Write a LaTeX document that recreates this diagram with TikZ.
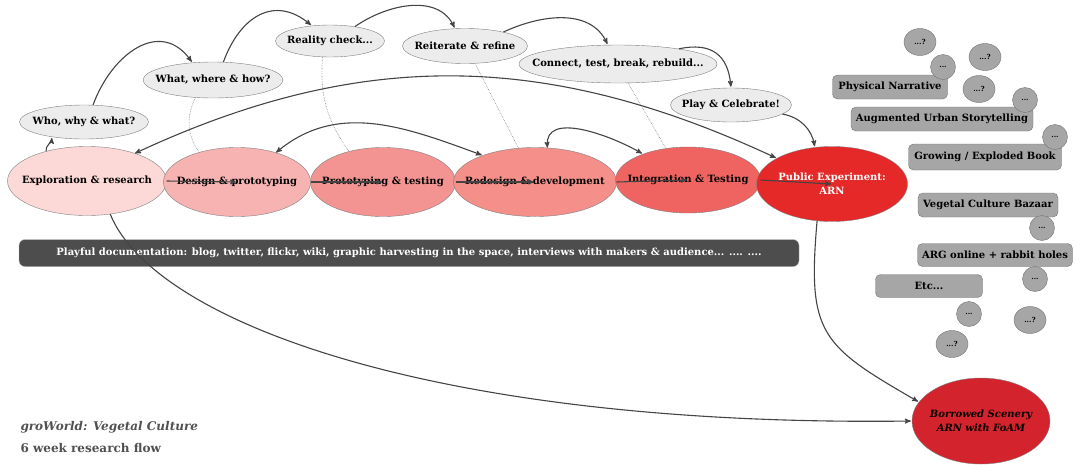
\documentclass[tikz,border=0pt]{standalone}
\usepackage{fontspec}
\setmainfont{DejaVu Serif}
\usepackage{tikz}
\usetikzlibrary{arrows,shapes.geometric}

\definecolor{rimgray}{HTML}{808080}
\definecolor{arrowgray}{HTML}{444444}
\definecolor{askfill}{HTML}{ECECEC}
\definecolor{boxfill}{HTML}{A6A6A6}
\definecolor{barfill}{HTML}{4D4D4D}
\definecolor{ph1}{HTML}{FCD8D7}
\definecolor{ph2}{HTML}{F7B2B2}
\definecolor{ph3}{HTML}{F39493}
\definecolor{ph4}{HTML}{F48F8A}
\definecolor{ph5}{HTML}{EF6461}
\definecolor{ph6}{HTML}{E52828}
\definecolor{ph7}{HTML}{D3242D}
\definecolor{titlegray}{HTML}{505050}

\begin{document}
\begin{tikzpicture}[x=1pt,y=-1pt,>=stealth',shorten >=1pt,
        every node/.style={font=\fontsize{10}{12}\selectfont\bfseries},
        phase/.style={ellipse,draw=rimgray,inner xsep=-40pt,inner ysep=0pt},
        ask/.style={ellipse,draw=rimgray,fill=askfill,inner xsep=-40pt,inner ysep=0pt},
        idea/.style={rectangle,rounded corners=5pt,draw=rimgray!90!black,fill=boxfill,inner sep=0pt},
        more/.style={ellipse,draw=rimgray!90!black,fill=boxfill,inner xsep=-10pt,inner ysep=0pt,
                     font=\fontsize{7}{8}\selectfont\bfseries},
        flow/.style={color=arrowgray,line width=1.1pt},
        trace/.style={color=rimgray,densely dotted,line width=0.6pt,shorten >=0pt}]

  \useasboundingbox (0,0) rectangle (1076,464);

  % the six phases
  \node[phase,fill=ph1,minimum width=159pt,minimum height=69pt] (explore) at (87,181) {Exploration \& research};
  \node[phase,fill=ph2,minimum width=147pt,minimum height=69pt] (design) at (237,182) {Design \& prototyping};
  \node[phase,fill=ph3,minimum width=145pt,minimum height=69pt] (prototest) at (383,182) {Prototyping \& testing};
  \node[phase,fill=ph4,minimum width=163pt,minimum height=69pt] (redesign) at (535,182) {Redesign \& development};
  \node[phase,fill=ph5,minimum width=145pt,minimum height=66pt] (integ) at (688,180) {Integration \& Testing};
  \node[phase,fill=ph6,minimum width=151pt,minimum height=75pt,text=white,align=center] (public) at (832,184) {Public Experiment:\\[2pt]ARN};
  \node[phase,fill=ph7,minimum width=138pt,minimum height=86pt,align=center,font=\fontsize{10}{12}\selectfont\bfseries\itshape] (borrowed) at (981,421) {Borrowed Scenery\\[2pt]ARN with FoAM};

  % questions on the way
  \node[ask,minimum width=129pt,minimum height=34pt] (who) at (84,122) {Who, why \& what?};
  \node[ask,minimum width=140pt,minimum height=36pt] (whatwhere) at (213,80) {What, where \& how?};
  \node[ask,minimum width=109pt,minimum height=32pt] (reality) at (330,41) {Reality check...};
  \node[ask,minimum width=125pt,minimum height=35pt] (reiterate) at (465,46) {Reiterate \& refine};
  \node[ask,minimum width=198pt,minimum height=38pt] (connect) at (618,64) {Connect, test, break, rebuild...};
  \node[ask,minimum width=121pt,minimum height=34pt] (play) at (731,105) {Play \& Celebrate!};

  \node[rectangle,rounded corners=6pt,draw=rimgray!60,fill=barfill,text=white,
        minimum width=780pt,minimum height=27pt,inner sep=0pt] (docbar) at (409,253)
        {Playful documentation: blog, twitter, flickr, wiki, graphic harvesting in the space, interviews with makers \& audience... .... ....};

  % outcomes
  \node[idea,minimum width=115pt,minimum height=24pt] (physnarr) at (890,87) {Physical Narrative};
  \node[idea,minimum width=182pt,minimum height=24pt] (augmented) at (942,119) {Augmented Urban Storytelling};
  \node[idea,minimum width=153pt,minimum height=26pt] (growing) at (985,157) {Growing / Exploded Book};
  \node[idea,minimum width=140pt,minimum height=24pt] (bazaar) at (988,205) {Vegetal Culture Bazaar};
  \node[idea,minimum width=155pt,minimum height=23pt] (argonline) at (995,255) {ARG online + rabbit holes};
  \node[idea,minimum width=107pt,minimum height=23pt] (etcbox) at (929,286) {Etc...};

  \node[more,minimum width=32pt,minimum height=27pt] (q_1) at (920,42) {...?};
  \node[more,minimum width=32pt,minimum height=27pt] (q_2) at (985,57) {...?};
  \node[more,minimum width=25pt,minimum height=25pt] (d_1) at (943,67) {...};
  \node[more,minimum width=32pt,minimum height=27pt] (q_3) at (979,89) {...?};
  \node[more,minimum width=25pt,minimum height=25pt] (d_2) at (1025,100) {...};
  \node[more,minimum width=25pt,minimum height=25pt] (d_3) at (1055,137) {...};
  \node[more,minimum width=25pt,minimum height=25pt] (d_4) at (1042,228) {...};
  \node[more,minimum width=25pt,minimum height=25pt] (d_5) at (1035,279) {...};
  \node[more,minimum width=25pt,minimum height=25pt] (d_6) at (969,314) {...};
  \node[more,minimum width=32pt,minimum height=27pt] (q_4) at (1030,320) {...?};
  \node[more,minimum width=32pt,minimum height=27pt] (q_5) at (952,344) {...?};

  \node[anchor=west,text=titlegray,font=\fontsize{12}{14}\selectfont\bfseries\itshape] (title) at (17,427) {groWorld: Vegetal Culture};
  \node[anchor=west,text=titlegray,font=\fontsize{12}{14}\selectfont\bfseries] (subtitle) at (17,448) {6 week research flow};

  \path[trace] (whatwhere.-135) edge [bend right=30] (design.142)
        (reality.-115)   edge [bend right=20] (prototest.138)
        (reiterate.-60)  edge (redesign.116)
        (connect.-62)    edge (integ.125);

  \path[flow,->] (explore.144) edge [out=95, in=-95]                 (who.205)
        (who.62)         edge [out=70, in=125, looseness=1.3]        (whatwhere.140)
        (whatwhere.60)   edge [out=70, in=140, looseness=1.3]        (reality.140)
        (reality.30)     edge [out=35, in=115]                       (reiterate.120)
        (reiterate.20)   edge [out=25, in=115]                       (connect.118)
        (connect.14)     edge [out=12, in=95, looseness=1.3]         (play.90)
        (play.-10)       edge [out=-10, in=100]                      (public.115)
        (explore.east)   edge                                        (design.center)
        (design.east)    edge                                        (prototest.center)
        (prototest.east) edge                                        (redesign.center)
        (redesign.east)  edge                                        (integ.center)
        (integ.east)     edge                                        (public.center)
        (public.-112)    edge [out=-95, in=150, looseness=1.4]       (borrowed.163);

  \path[flow,<->] (explore.30) edge [out=25, in=155]                 (public.155)
        (design.37)      edge [out=40, in=160]                       (redesign.153)
        (redesign.70)    edge [out=95, in=150]                       (integ.150);

  % long way down to the borrowed scenery
  \draw[flow,->] (explore.-55) .. controls +(45,110) and +(-470,6) .. (borrowed.west);

\end{tikzpicture}
\end{document}
